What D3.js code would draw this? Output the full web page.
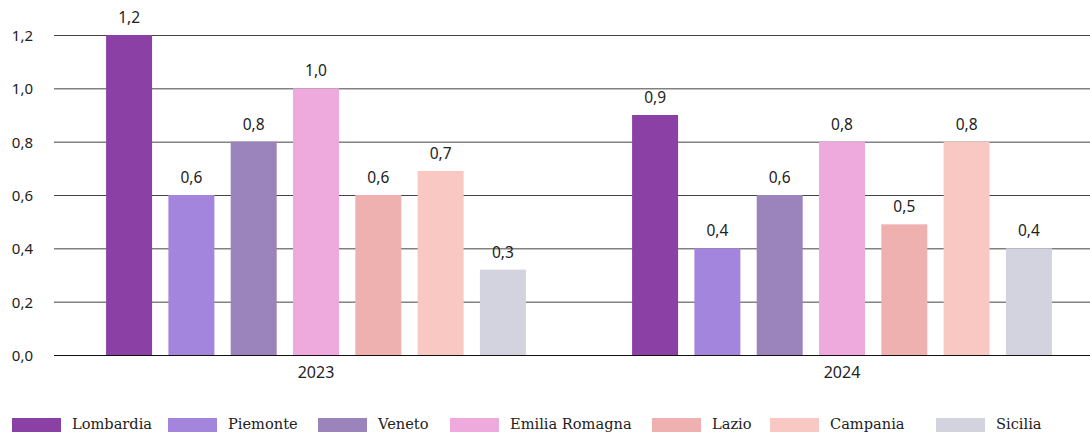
<!DOCTYPE html>
<html><head><meta charset="utf-8">
<script src="https://cdn.jsdelivr.net/npm/d3@7"></script>
<style>html,body{margin:0;padding:0;background:#fff;overflow:hidden}</style>
</head><body><svg id="c" width="1090" height="432"></svg>
<script>
const years = ["2023", "2024"];
const regions = ["Lombardia", "Piemonte", "Veneto", "Emilia Romagna", "Lazio", "Campania", "Sicilia"];
const values2023 = [1.2, 0.6, 0.8, 1.0, 0.6, 0.69, 0.32];
const values2024 = [0.9, 0.4, 0.6, 0.8, 0.49, 0.8, 0.4];
const labels2023 = ["1,2", "0,6", "0,8", "1,0", "0,6", "0,7", "0,3"];
const labels2024 = ["0,9", "0,4", "0,6", "0,8", "0,5", "0,8", "0,4"];
const colors = ["#8A40A4", "#A385DD", "#9B83BC", "#EFAADD", "#EFB0B0", "#F9C8C3", "#D3D3DF"];
const yTicks = [0, 0.2, 0.4, 0.6, 0.8, 1.0, 1.2];
const legendX = [12, 168, 318, 450, 652, 770, 936];

const svg = d3.select("#c");
const fmt = v => d3.format(".1f")(v).replace(".", ",");
const y = d3.scaleLinear().domain([0, 1.2]).range([355, 35]);
const x0 = d3.scaleBand().domain(years).range([53, 1105]).padding(0);
const x1 = d3.scaleBand().domain(regions).range([0, x0.bandwidth()]).paddingInner(0.262).paddingOuter(0.852);
const sans = "'Noto Sans', sans-serif";

// grid
const yAxis = d3.axisLeft(y).tickValues(yTicks).tickSize(-(1090 - 54)).tickFormat(fmt);
const gy = svg.append("g").attr("transform", "translate(54,0)").call(yAxis);
gy.select(".domain").remove();
gy.selectAll(".tick line").attr("stroke", "#444").attr("stroke-width", 1);
gy.selectAll(".tick text").attr("x", -21).attr("dy", "0.36em").attr("font-family", sans).attr("font-size", 15).attr("fill", "#222");

// bars
const data = [values2023, values2024];
const lbls = [labels2023, labels2024];
years.forEach((yr, gi) => {
  const g = svg.append("g").attr("transform", `translate(${x0(yr)},0)`);
  g.selectAll("rect").data(regions).join("rect")
    .attr("x", r => x1(r)).attr("width", x1.bandwidth())
    .attr("y", (r, i) => y(data[gi][i])).attr("height", (r, i) => y(0) - y(data[gi][i]))
    .attr("fill", (r, i) => colors[i]);
  g.selectAll("text").data(regions).join("text")
    .attr("x", r => x1(r) + x1.bandwidth() / 2)
    .attr("y", (r, i) => y(data[gi][i]) - 12)
    .attr("text-anchor", "middle").attr("font-family", sans).attr("font-size", 15.5).attr("fill", "#222")
    .text((r, i) => lbls[gi][i]);
});

// x axis line
svg.append("line").attr("x1", 54).attr("x2", 1090).attr("y1", y(0) + 0.5).attr("y2", y(0) + 0.5).attr("stroke", "#111");
const xAxis = d3.axisBottom(x0).tickSize(0);
const gx = svg.append("g").attr("transform", `translate(0,${y(0)})`).call(xAxis);
gx.select(".domain").remove();
gx.selectAll(".tick text").attr("dy", 0).attr("y", 23).attr("font-family", sans).attr("font-size", 16).attr("fill", "#222");

// legend
const lg = svg.append("g");
regions.forEach((r, i) => {
  lg.append("rect").attr("x", legendX[i]).attr("y", 418).attr("width", 49).attr("height", 14).attr("fill", colors[i]);
  lg.append("text").attr("x", legendX[i] + 60).attr("y", 429).attr("font-family", "'DejaVu Serif', serif").attr("font-size", 14.6).attr("fill", "#222").text(r);
});
</script></body></html>
